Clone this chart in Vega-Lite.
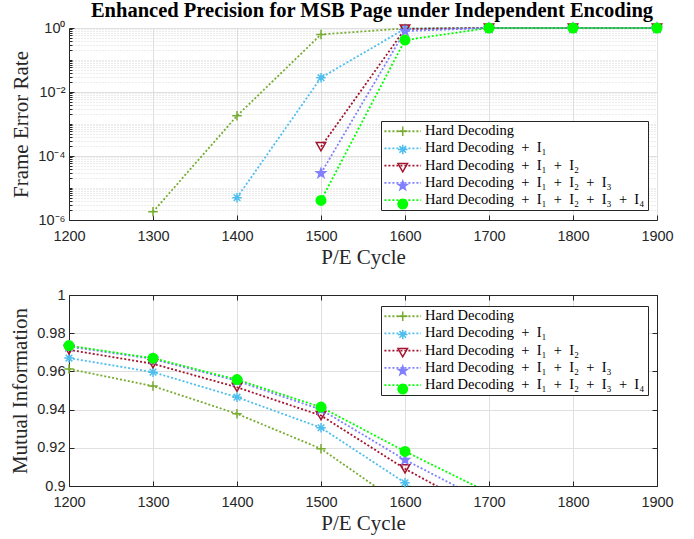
{
  "$schema": "https://vega.github.io/schema/vega-lite/v6.json",
  "background": "white",
  "padding": {"left": 9, "top": 0, "right": 5, "bottom": 5},
  "spacing": 19,
  "config": {
    "view": {"stroke": null},
    "axis": {
      "labelFont": "Liberation Sans", "labelFontSize": 14.5, "labelColor": "#262626",
      "titleFont": "Liberation Serif", "titleFontSize": 21, "titleFontWeight": "normal", "titleColor": "#262626",
      "domainColor": "#262626", "domainWidth": 1, "tickColor": "#262626", "gridColor": "#e0e0e0", "gridWidth": 1
    }
  },
  "resolve": {
    "scale": {"color": "independent", "shape": "independent", "fill": "independent"},
    "legend": {"color": "independent", "shape": "independent", "fill": "independent"}
  },
  "datasets": {
    "fer": [
      {"pe": 1300, "ser": "Hard Decoding", "v": 1.8e-6},
      {"pe": 1400, "ser": "Hard Decoding", "v": 1.8e-3},
      {"pe": 1500, "ser": "Hard Decoding", "v": 0.63},
      {"pe": 1600, "ser": "Hard Decoding", "v": 0.97},
      {"pe": 1700, "ser": "Hard Decoding", "v": 1},
      {"pe": 1800, "ser": "Hard Decoding", "v": 1},
      {"pe": 1900, "ser": "Hard Decoding", "v": 1},
      {"pe": 1400, "ser": "Hard Decoding\u2002+\u2002I₁", "v": 5e-6},
      {"pe": 1500, "ser": "Hard Decoding\u2002+\u2002I₁", "v": 0.028},
      {"pe": 1600, "ser": "Hard Decoding\u2002+\u2002I₁", "v": 0.95},
      {"pe": 1700, "ser": "Hard Decoding\u2002+\u2002I₁", "v": 1},
      {"pe": 1800, "ser": "Hard Decoding\u2002+\u2002I₁", "v": 1},
      {"pe": 1900, "ser": "Hard Decoding\u2002+\u2002I₁", "v": 1},
      {"pe": 1500, "ser": "Hard Decoding\u2002+\u2002I₁\u2002+\u2002I₂", "v": 1.95e-4},
      {"pe": 1600, "ser": "Hard Decoding\u2002+\u2002I₁\u2002+\u2002I₂", "v": 0.93},
      {"pe": 1700, "ser": "Hard Decoding\u2002+\u2002I₁\u2002+\u2002I₂", "v": 1},
      {"pe": 1800, "ser": "Hard Decoding\u2002+\u2002I₁\u2002+\u2002I₂", "v": 1},
      {"pe": 1900, "ser": "Hard Decoding\u2002+\u2002I₁\u2002+\u2002I₂", "v": 1},
      {"pe": 1500, "ser": "Hard Decoding\u2002+\u2002I₁\u2002+\u2002I₂\u2002+\u2002I₃", "v": 2.9e-5},
      {"pe": 1600, "ser": "Hard Decoding\u2002+\u2002I₁\u2002+\u2002I₂\u2002+\u2002I₃", "v": 0.8},
      {"pe": 1700, "ser": "Hard Decoding\u2002+\u2002I₁\u2002+\u2002I₂\u2002+\u2002I₃", "v": 1},
      {"pe": 1800, "ser": "Hard Decoding\u2002+\u2002I₁\u2002+\u2002I₂\u2002+\u2002I₃", "v": 1},
      {"pe": 1900, "ser": "Hard Decoding\u2002+\u2002I₁\u2002+\u2002I₂\u2002+\u2002I₃", "v": 1},
      {"pe": 1500, "ser": "Hard Decoding\u2002+\u2002I₁\u2002+\u2002I₂\u2002+\u2002I₃\u2002+\u2002I₄", "v": 4.1e-6},
      {"pe": 1600, "ser": "Hard Decoding\u2002+\u2002I₁\u2002+\u2002I₂\u2002+\u2002I₃\u2002+\u2002I₄", "v": 0.42},
      {"pe": 1700, "ser": "Hard Decoding\u2002+\u2002I₁\u2002+\u2002I₂\u2002+\u2002I₃\u2002+\u2002I₄", "v": 1},
      {"pe": 1800, "ser": "Hard Decoding\u2002+\u2002I₁\u2002+\u2002I₂\u2002+\u2002I₃\u2002+\u2002I₄", "v": 1},
      {"pe": 1900, "ser": "Hard Decoding\u2002+\u2002I₁\u2002+\u2002I₂\u2002+\u2002I₃\u2002+\u2002I₄", "v": 1}
    ],
    "mi": [
      {"pe": 1200, "ser": "Hard Decoding", "v": 0.9613},
      {"pe": 1300, "ser": "Hard Decoding", "v": 0.9523},
      {"pe": 1400, "ser": "Hard Decoding", "v": 0.9378},
      {"pe": 1500, "ser": "Hard Decoding", "v": 0.9195},
      {"pe": 1600, "ser": "Hard Decoding", "v": 0.889},
      {"pe": 1200, "ser": "Hard Decoding\u2002+\u2002I₁", "v": 0.967},
      {"pe": 1300, "ser": "Hard Decoding\u2002+\u2002I₁", "v": 0.9596},
      {"pe": 1400, "ser": "Hard Decoding\u2002+\u2002I₁", "v": 0.9465},
      {"pe": 1500, "ser": "Hard Decoding\u2002+\u2002I₁", "v": 0.9305},
      {"pe": 1600, "ser": "Hard Decoding\u2002+\u2002I₁", "v": 0.9017},
      {"pe": 1700, "ser": "Hard Decoding\u2002+\u2002I₁", "v": 0.868},
      {"pe": 1200, "ser": "Hard Decoding\u2002+\u2002I₁\u2002+\u2002I₂", "v": 0.9713},
      {"pe": 1300, "ser": "Hard Decoding\u2002+\u2002I₁\u2002+\u2002I₂", "v": 0.964},
      {"pe": 1400, "ser": "Hard Decoding\u2002+\u2002I₁\u2002+\u2002I₂", "v": 0.9517},
      {"pe": 1500, "ser": "Hard Decoding\u2002+\u2002I₁\u2002+\u2002I₂", "v": 0.9369},
      {"pe": 1600, "ser": "Hard Decoding\u2002+\u2002I₁\u2002+\u2002I₂", "v": 0.909},
      {"pe": 1700, "ser": "Hard Decoding\u2002+\u2002I₁\u2002+\u2002I₂", "v": 0.885},
      {"pe": 1200, "ser": "Hard Decoding\u2002+\u2002I₁\u2002+\u2002I₂\u2002+\u2002I₃", "v": 0.973},
      {"pe": 1300, "ser": "Hard Decoding\u2002+\u2002I₁\u2002+\u2002I₂\u2002+\u2002I₃", "v": 0.9665},
      {"pe": 1400, "ser": "Hard Decoding\u2002+\u2002I₁\u2002+\u2002I₂\u2002+\u2002I₃", "v": 0.955},
      {"pe": 1500, "ser": "Hard Decoding\u2002+\u2002I₁\u2002+\u2002I₂\u2002+\u2002I₃", "v": 0.94},
      {"pe": 1600, "ser": "Hard Decoding\u2002+\u2002I₁\u2002+\u2002I₂\u2002+\u2002I₃", "v": 0.9137},
      {"pe": 1700, "ser": "Hard Decoding\u2002+\u2002I₁\u2002+\u2002I₂\u2002+\u2002I₃", "v": 0.891},
      {"pe": 1200, "ser": "Hard Decoding\u2002+\u2002I₁\u2002+\u2002I₂\u2002+\u2002I₃\u2002+\u2002I₄", "v": 0.9735},
      {"pe": 1300, "ser": "Hard Decoding\u2002+\u2002I₁\u2002+\u2002I₂\u2002+\u2002I₃\u2002+\u2002I₄", "v": 0.9669},
      {"pe": 1400, "ser": "Hard Decoding\u2002+\u2002I₁\u2002+\u2002I₂\u2002+\u2002I₃\u2002+\u2002I₄", "v": 0.9557},
      {"pe": 1500, "ser": "Hard Decoding\u2002+\u2002I₁\u2002+\u2002I₂\u2002+\u2002I₃\u2002+\u2002I₄", "v": 0.9413},
      {"pe": 1600, "ser": "Hard Decoding\u2002+\u2002I₁\u2002+\u2002I₂\u2002+\u2002I₃\u2002+\u2002I₄", "v": 0.9181},
      {"pe": 1700, "ser": "Hard Decoding\u2002+\u2002I₁\u2002+\u2002I₂\u2002+\u2002I₃\u2002+\u2002I₄", "v": 0.8965}
    ]
  },
  "vconcat": [
    {
      "width": 588,
      "height": 192,
      "title": {"text": "Enhanced Precision for MSB Page under Independent Encoding", "font": "Liberation Serif", "fontSize": 20.5, "fontWeight": "bold", "color": "black", "anchor": "middle", "offset": -1, "dx": 9},
      "data": {"name": "fer"},
      "resolve": {
        "axis": {"x": "independent", "y": "independent"},
        "legend": {"color": "independent", "shape": "independent", "fill": "independent"}
      },
      "layer": [
        {
          "mark": {"type": "line", "opacity": 0},
          "encoding": {
            "x": {"field": "pe", "type": "quantitative", "scale": {"domain": [1200, 1900]}, "axis": null},
            "y": {"field": "v", "type": "quantitative", "scale": {"type": "log", "domain": [1e-6, 1]},
              "axis": {"orient": "left", "values": [2e-6,3e-6,4e-6,5e-6,6e-6,7e-6,8e-6,9e-6,1e-5,2e-5,3e-5,4e-5,5e-5,6e-5,7e-5,8e-5,9e-5,2e-4,3e-4,4e-4,5e-4,6e-4,7e-4,8e-4,9e-4,1e-3,2e-3,3e-3,4e-3,5e-3,6e-3,7e-3,8e-3,9e-3,2e-2,3e-2,4e-2,5e-2,6e-2,7e-2,8e-2,9e-2,0.1,0.2,0.3,0.4,0.5,0.6,0.7,0.8,0.9],
                "grid": true, "gridDash": [1, 2], "gridColor": "#cfcfcf", "gridWidth": 0.8, "labels": false, "domain": false, "ticks": true, "tickSize": -3, "title": null}}
          }
        },
        {
          "mark": {"type": "line", "strokeDash": [2, 2], "strokeWidth": 1.8},
          "encoding": {
            "x": {"field": "pe", "type": "quantitative", "scale": {"domain": [1200, 1900]},
              "axis": {"orient": "bottom", "values": [1200,1300,1400,1500,1600,1700,1800,1900], "format": "d", "title": "P/E Cycle", "grid": true, "tickSize": -5, "labelPadding": 14, "titlePadding": 4, "labelFlush": false}},
            "y": {"field": "v", "type": "quantitative", "scale": {"type": "log", "domain": [1e-6, 1]},
              "axis": {"orient": "left", "values": [1e-6, 1e-4, 1e-2, 1], "grid": true, "tickSize": -5, "labelPadding": 9, "titlePadding": 6, "title": "Frame Error Rate",
                "labelExpr": "datum.value >= 0.5 ? '10⁰' : datum.value >= 0.005 ? '10⁻²' : datum.value >= 0.00005 ? '10⁻⁴' : '10⁻⁶'"}},
            "color": {"field": "ser", "type": "nominal", "sort": null,
              "scale": {"domain": ["Hard Decoding", "Hard Decoding\u2002+\u2002I₁", "Hard Decoding\u2002+\u2002I₁\u2002+\u2002I₂", "Hard Decoding\u2002+\u2002I₁\u2002+\u2002I₂\u2002+\u2002I₃", "Hard Decoding\u2002+\u2002I₁\u2002+\u2002I₂\u2002+\u2002I₃\u2002+\u2002I₄"], "range": ["#77AC30", "#4DBEEE", "#A2142F", "#8080FF", "#00FF00"]},
              "legend": {"orient": "none", "legendX": 312, "legendY": 93, "title": null, "symbolType": "M-4,0H4", "symbolSize": 84, "symbolStrokeWidth": 1.8, "symbolDash": [2, 2], "symbolOffset": 11.5,
                "labelFont": "Liberation Serif", "labelFontSize": 14.5, "labelColor": "black", "labelLimit": 0, "labelOffset": 15, "padding": 3, "rowPadding": 2.2, "strokeColor": "#262626", "fillColor": "white"}}
          }
        },
        {
          "mark": {"type": "point", "filled": false, "strokeWidth": 1.5, "size": 90, "opacity": 1},
          "encoding": {
            "x": {"field": "pe", "type": "quantitative", "scale": {"domain": [1200, 1900]}, "axis": null},
            "y": {"field": "v", "type": "quantitative", "scale": {"type": "log", "domain": [1e-6, 1]}, "axis": null},
            "color": {"field": "ser", "type": "nominal", "sort": null,
              "scale": {"domain": ["Hard Decoding", "Hard Decoding\u2002+\u2002I₁", "Hard Decoding\u2002+\u2002I₁\u2002+\u2002I₂", "Hard Decoding\u2002+\u2002I₁\u2002+\u2002I₂\u2002+\u2002I₃", "Hard Decoding\u2002+\u2002I₁\u2002+\u2002I₂\u2002+\u2002I₃\u2002+\u2002I₄"], "range": ["#77AC30", "#4DBEEE", "#A2142F", "#8080FF", "#00FF00"]},
              "legend": {"orient": "none", "legendX": 312, "legendY": 93, "title": null, "symbolSize": 90, "symbolStrokeWidth": 1.5, "symbolOffset": 11.5,
                "labelFont": "Liberation Serif", "labelFontSize": 14.5, "labelColor": "transparent", "labelExpr": "''", "labelLimit": 0, "labelOffset": 15, "padding": 3, "rowPadding": 2.2, "strokeColor": null, "fillColor": null}},
            "shape": {"field": "ser", "type": "nominal", "sort": null,
              "scale": {"domain": ["Hard Decoding", "Hard Decoding\u2002+\u2002I₁", "Hard Decoding\u2002+\u2002I₁\u2002+\u2002I₂", "Hard Decoding\u2002+\u2002I₁\u2002+\u2002I₂\u2002+\u2002I₃", "Hard Decoding\u2002+\u2002I₁\u2002+\u2002I₂\u2002+\u2002I₃\u2002+\u2002I₄"],
                "range": ["M-1,0H1M0,-1V1", "M-1,0H1M0,-1V1M-0.7,-0.7L0.7,0.7M-0.7,0.7L0.7,-0.7", "triangle-down", "M0,-1L0.235,-0.324L0.951,-0.309L0.38,0.124L0.588,0.809L0,0.4L-0.588,0.809L-0.38,0.124L-0.951,-0.309L-0.235,-0.324Z", "circle"]},
              "legend": {"orient": "none", "legendX": 312, "legendY": 93, "title": null, "symbolSize": 90, "symbolStrokeWidth": 1.5, "symbolOffset": 11.5,
                "labelFont": "Liberation Serif", "labelFontSize": 14.5, "labelColor": "transparent", "labelExpr": "''", "labelLimit": 0, "labelOffset": 15, "padding": 3, "rowPadding": 2.2, "strokeColor": null, "fillColor": null}},
            "fill": {"field": "ser", "type": "nominal", "sort": null,
              "scale": {"domain": ["Hard Decoding", "Hard Decoding\u2002+\u2002I₁", "Hard Decoding\u2002+\u2002I₁\u2002+\u2002I₂", "Hard Decoding\u2002+\u2002I₁\u2002+\u2002I₂\u2002+\u2002I₃", "Hard Decoding\u2002+\u2002I₁\u2002+\u2002I₂\u2002+\u2002I₃\u2002+\u2002I₄"], "range": ["transparent", "transparent", "transparent", "#8080FF", "#00FF00"]},
              "legend": {"orient": "none", "legendX": 312, "legendY": 93, "title": null, "symbolSize": 90, "symbolStrokeWidth": 1.5, "symbolOffset": 11.5,
                "labelFont": "Liberation Serif", "labelFontSize": 14.5, "labelColor": "transparent", "labelExpr": "''", "labelLimit": 0, "labelOffset": 15, "padding": 3, "rowPadding": 2.2, "strokeColor": null, "fillColor": null}}
          }
        }
      ]
    },
    {
      "width": 588,
      "height": 191,
      "data": {"name": "mi"},
      "resolve": {
        "axis": {"x": "independent", "y": "independent"},
        "legend": {"color": "independent", "shape": "independent", "fill": "independent"}
      },
      "layer": [
        {
          "mark": {"type": "line", "strokeDash": [2, 2], "strokeWidth": 1.8, "clip": true},
          "encoding": {
            "x": {"field": "pe", "type": "quantitative", "scale": {"domain": [1200, 1900]},
              "axis": {"orient": "bottom", "values": [1200,1300,1400,1500,1600,1700,1800,1900], "format": "d", "title": "P/E Cycle", "grid": true, "tickSize": -5, "labelPadding": 14, "titlePadding": 4, "labelFlush": false}},
            "y": {"field": "v", "type": "quantitative", "scale": {"domain": [0.9, 1]},
              "axis": {"orient": "left", "values": [0.9, 0.92, 0.94, 0.96, 0.98, 1], "format": "~g", "grid": true, "tickSize": -5, "labelPadding": 9, "titlePadding": 6, "title": "Mutual Information"}},
            "color": {"field": "ser", "type": "nominal", "sort": null,
              "scale": {"domain": ["Hard Decoding", "Hard Decoding\u2002+\u2002I₁", "Hard Decoding\u2002+\u2002I₁\u2002+\u2002I₂", "Hard Decoding\u2002+\u2002I₁\u2002+\u2002I₂\u2002+\u2002I₃", "Hard Decoding\u2002+\u2002I₁\u2002+\u2002I₂\u2002+\u2002I₃\u2002+\u2002I₄"], "range": ["#77AC30", "#4DBEEE", "#A2142F", "#8080FF", "#00FF00"]},
              "legend": {"orient": "none", "legendX": 312, "legendY": 11, "title": null, "symbolType": "M-4,0H4", "symbolSize": 84, "symbolStrokeWidth": 1.8, "symbolDash": [2, 2], "symbolOffset": 11.5,
                "labelFont": "Liberation Serif", "labelFontSize": 14.5, "labelColor": "black", "labelLimit": 0, "labelOffset": 15, "padding": 3, "rowPadding": 2.2, "strokeColor": "#262626", "fillColor": "white"}}
          }
        },
        {
          "transform": [{"filter": "datum.v >= 0.9"}],
          "mark": {"type": "point", "filled": false, "strokeWidth": 1.5, "size": 90, "opacity": 1},
          "encoding": {
            "x": {"field": "pe", "type": "quantitative", "scale": {"domain": [1200, 1900]},
              "axis": {"orient": "top", "values": [1200,1300,1400,1500,1600,1700,1800,1900], "labels": false, "title": null, "grid": false, "tickSize": -5}},
            "y": {"field": "v", "type": "quantitative", "scale": {"domain": [0.9, 1]},
              "axis": {"orient": "right", "values": [0.9, 0.92, 0.94, 0.96, 0.98, 1], "labels": false, "title": null, "grid": false, "tickSize": -5}},
            "color": {"field": "ser", "type": "nominal", "sort": null,
              "scale": {"domain": ["Hard Decoding", "Hard Decoding\u2002+\u2002I₁", "Hard Decoding\u2002+\u2002I₁\u2002+\u2002I₂", "Hard Decoding\u2002+\u2002I₁\u2002+\u2002I₂\u2002+\u2002I₃", "Hard Decoding\u2002+\u2002I₁\u2002+\u2002I₂\u2002+\u2002I₃\u2002+\u2002I₄"], "range": ["#77AC30", "#4DBEEE", "#A2142F", "#8080FF", "#00FF00"]},
              "legend": {"orient": "none", "legendX": 312, "legendY": 11, "title": null, "symbolSize": 90, "symbolStrokeWidth": 1.5, "symbolOffset": 11.5,
                "labelFont": "Liberation Serif", "labelFontSize": 14.5, "labelColor": "transparent", "labelExpr": "''", "labelLimit": 0, "labelOffset": 15, "padding": 3, "rowPadding": 2.2, "strokeColor": null, "fillColor": null}},
            "shape": {"field": "ser", "type": "nominal", "sort": null,
              "scale": {"domain": ["Hard Decoding", "Hard Decoding\u2002+\u2002I₁", "Hard Decoding\u2002+\u2002I₁\u2002+\u2002I₂", "Hard Decoding\u2002+\u2002I₁\u2002+\u2002I₂\u2002+\u2002I₃", "Hard Decoding\u2002+\u2002I₁\u2002+\u2002I₂\u2002+\u2002I₃\u2002+\u2002I₄"],
                "range": ["M-1,0H1M0,-1V1", "M-1,0H1M0,-1V1M-0.7,-0.7L0.7,0.7M-0.7,0.7L0.7,-0.7", "triangle-down", "M0,-1L0.235,-0.324L0.951,-0.309L0.38,0.124L0.588,0.809L0,0.4L-0.588,0.809L-0.38,0.124L-0.951,-0.309L-0.235,-0.324Z", "circle"]},
              "legend": {"orient": "none", "legendX": 312, "legendY": 11, "title": null, "symbolSize": 90, "symbolStrokeWidth": 1.5, "symbolOffset": 11.5,
                "labelFont": "Liberation Serif", "labelFontSize": 14.5, "labelColor": "transparent", "labelExpr": "''", "labelLimit": 0, "labelOffset": 15, "padding": 3, "rowPadding": 2.2, "strokeColor": null, "fillColor": null}},
            "fill": {"field": "ser", "type": "nominal", "sort": null,
              "scale": {"domain": ["Hard Decoding", "Hard Decoding\u2002+\u2002I₁", "Hard Decoding\u2002+\u2002I₁\u2002+\u2002I₂", "Hard Decoding\u2002+\u2002I₁\u2002+\u2002I₂\u2002+\u2002I₃", "Hard Decoding\u2002+\u2002I₁\u2002+\u2002I₂\u2002+\u2002I₃\u2002+\u2002I₄"], "range": ["transparent", "transparent", "transparent", "#8080FF", "#00FF00"]},
              "legend": {"orient": "none", "legendX": 312, "legendY": 11, "title": null, "symbolSize": 90, "symbolStrokeWidth": 1.5, "symbolOffset": 11.5,
                "labelFont": "Liberation Serif", "labelFontSize": 14.5, "labelColor": "transparent", "labelExpr": "''", "labelLimit": 0, "labelOffset": 15, "padding": 3, "rowPadding": 2.2, "strokeColor": null, "fillColor": null}}
          }
        }
      ]
    }
  ]
}
